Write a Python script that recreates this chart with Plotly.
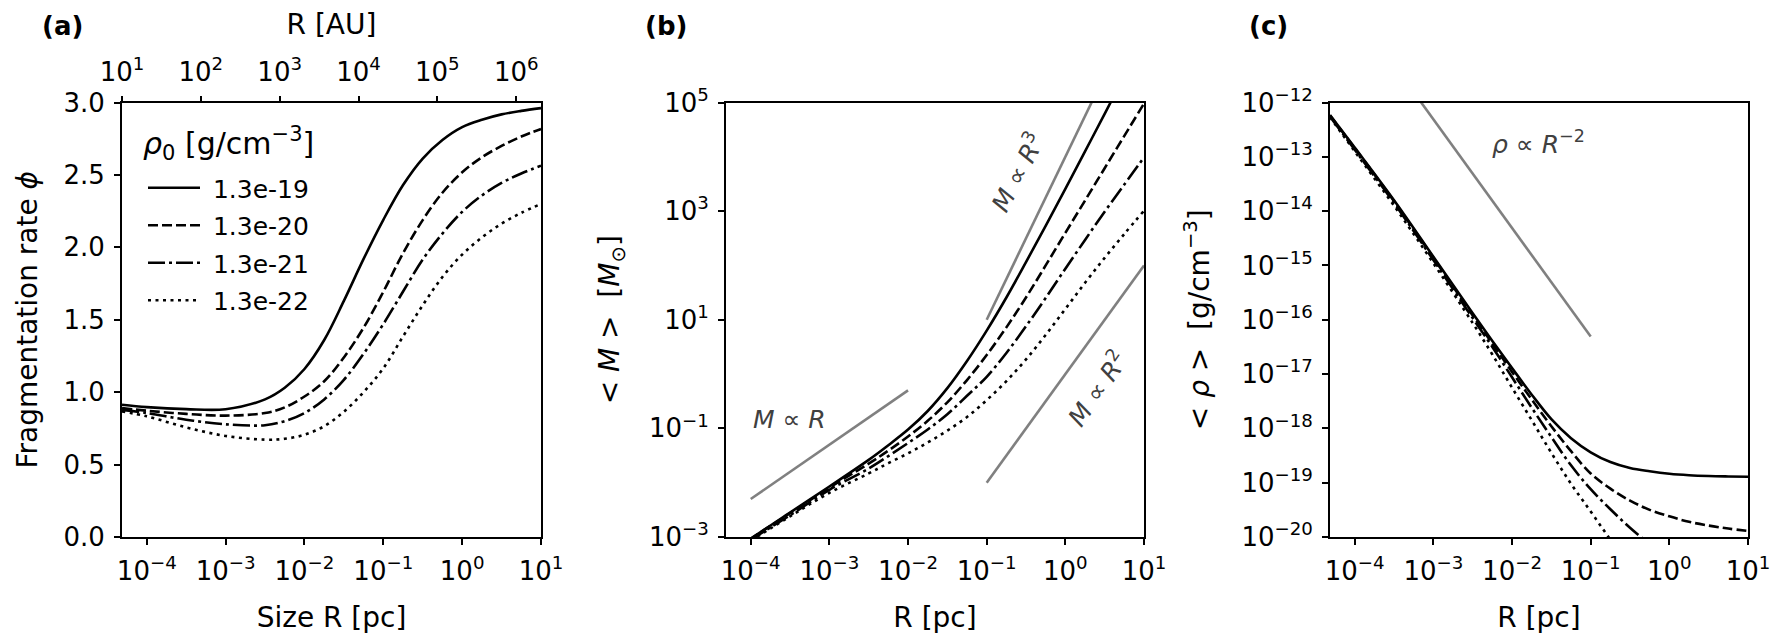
import numpy as np
import plotly.graph_objects as go

# ---------------- data ----------------
rho0_labels = ["1.3e-19", "1.3e-20", "1.3e-21", "1.3e-22"]
dash_styles = ["solid", "10px,4px", "17px,4px,3px,4px", "3px,4.5px"]

# common radius grid [pc] (values at these radii)
R_pc = [4.85e-5, 1e-4, 3.16e-4, 1e-3, 3.16e-3, 5.62e-3, 1e-2, 1.78e-2, 3.16e-2, 5.62e-2,
        0.1, 0.178, 0.316, 0.562, 1.0, 1.78, 3.16, 5.62, 10.0]

# panel (a): fragmentation rate phi
phi_19 = [0.913, 0.897, 0.883, 0.882, 0.950, 1.030, 1.160, 1.360, 1.630, 1.920, 2.190,
          2.430, 2.613, 2.741, 2.830, 2.881, 2.918, 2.942, 2.961]
phi_20 = [0.890, 0.872, 0.850, 0.838, 0.856, 0.895, 0.970, 1.075, 1.240, 1.445, 1.693,
          1.960, 2.188, 2.377, 2.518, 2.622, 2.700, 2.765, 2.817]
phi_21 = [0.878, 0.856, 0.810, 0.778, 0.772, 0.800, 0.856, 0.950, 1.085, 1.265, 1.470,
          1.695, 1.915, 2.095, 2.245, 2.358, 2.445, 2.510, 2.564]
phi_22 = [0.867, 0.833, 0.757, 0.698, 0.672, 0.678, 0.706, 0.765, 0.865, 1.000, 1.165,
          1.385, 1.600, 1.795, 1.950, 2.068, 2.163, 2.238, 2.300]

# panel (b): mean fragment mass [Msun]
M_19 = [4.5e-4, 9.3e-4, 2.82e-3, 8.5e-3, 2.63e-2, 4.9e-2, 9.5e-2, 0.209, 0.55, 1.74,
        6.31, 25.7, 115, 537, 2570, 1.26e4, 6.17e4, 3.09e5, 1.58e6]
M_20 = [4.7e-4, 9.3e-4, 2.75e-3, 8.1e-3, 2.24e-2, 3.89e-2, 7.08e-2, 0.138, 0.302, 0.776,
        2.24, 7.24, 25.7, 100, 398, 1567, 6166, 2.43e4, 9.55e4]
M_21 = [4.5e-4, 8.9e-4, 2.51e-3, 7.4e-3, 1.82e-2, 3.09e-2, 5.37e-2, 9.55e-2, 0.182, 0.398,
        0.891, 2.45, 7.59, 25.1, 87.1, 295, 977, 3090, 9770]
M_22 = [4.3e-4, 8.5e-4, 2.4e-3, 6.5e-3, 1.48e-2, 2.29e-2, 3.47e-2, 5.5e-2, 9.1e-2, 0.162,
        0.331, 0.741, 1.86, 5.25, 15.8, 47.9, 138, 380, 1020]

# panel (c): mean density, log10 [g/cm^3]
logrho_19 = [-12.23, -12.83, -13.80, -14.84, -15.88, -16.39, -16.89, -17.38, -17.83, -18.18,
             -18.44, -18.62, -18.73, -18.79, -18.835, -18.862, -18.877, -18.885, -18.89]
logrho_20 = [-12.24, -12.84, -13.82, -14.86, -15.92, -16.44, -16.96, -17.47, -17.96, -18.42,
             -18.83, -19.11, -19.33, -19.50, -19.62, -19.72, -19.79, -19.845, -19.89]
logrho_21 = [-12.26, -12.87, -13.85, -14.90, -15.97, -16.50, -17.06, -17.62, -18.16, -18.68,
             -19.12, -19.49, -19.83, -20.13, -20.40, -20.65, -20.88, -21.08, -21.25]
logrho_22 = [-12.27, -12.90, -13.90, -14.96, -16.06, -16.64, -17.25, -17.85, -18.45, -19.02,
             -19.53, -20.05, -20.55, -21.0, -21.42, -21.82, -22.2, -22.55, -22.9]

# reference power-law guide lines
guideR1_R = [1e-4, 1e-2];  guideR1_M = [5e-3, 5e-1]
guideR3_R = [0.1, 10.0];   guideR3_M = [10.0, 1e7]
guideR2_R = [0.1, 10.0];   guideR2_M = [1e-2, 1e2]
guideRho_R = [1e-4, 0.1];  guideRho_rho = [4.9e-11, 4.9e-17]

AU_range = [10.0, 10.0 * 206265.0]

# tick labels
pc_ticks = [1e-4, 1e-3, 1e-2, 1e-1, 1e0, 1e1]
pc_ticktext = ["10<sup>−4</sup>", "10<sup>−3</sup>", "10<sup>−2</sup>", "10<sup>−1</sup>",
               "10<sup>0</sup>", "10<sup>1</sup>"]
au_ticks = [1e1, 1e2, 1e3, 1e4, 1e5, 1e6]
au_ticktext = ["10<sup>1</sup>", "10<sup>2</sup>", "10<sup>3</sup>", "10<sup>4</sup>",
               "10<sup>5</sup>", "10<sup>6</sup>"]
phi_ticks = [0.0, 0.5, 1.0, 1.5, 2.0, 2.5, 3.0]
M_ticks = [1e-3, 1e-1, 1e1, 1e3, 1e5]
M_ticktext = ["10<sup>−3</sup>", "10<sup>−1</sup>", "10<sup>1</sup>", "10<sup>3</sup>", "10<sup>5</sup>"]
rho_ticks = [10.0 ** e for e in range(-20, -11)]
rho_ticktext = [f"10<sup>−{-e}</sup>" for e in range(-20, -11)]

# ---------------- figure ----------------
FONT = "DejaVu Sans"
OFF = 8                      # page body margin of the browser
W, H = 1785 - OFF, 644 - OFF
def px_x(p):
    return (p - OFF) / W
def px_y(p):
    return 1 - (p - OFF) / H

fig = go.Figure()

phis = [phi_19, phi_20, phi_21, phi_22]
Ms = [M_19, M_20, M_21, M_22]
rhos = [logrho_19, logrho_20, logrho_21, logrho_22]
LW = 2.6
SPL = dict(shape="spline", smoothing=1.0)

for i in range(4):
    fig.add_trace(go.Scatter(x=R_pc, y=phis[i], mode="lines", name="\u00a0" + rho0_labels[i],
                             line=dict(color="black", width=LW, dash=dash_styles[i], **SPL),
                             xaxis="x", yaxis="y", legendgroup=f"g{i}", showlegend=True))
for i in range(4):
    fig.add_trace(go.Scatter(x=R_pc, y=Ms[i], mode="lines",
                             line=dict(color="black", width=LW, dash=dash_styles[i], **SPL),
                             xaxis="x2", yaxis="y2", showlegend=False))
for i in range(4):
    fig.add_trace(go.Scatter(x=R_pc, y=[10 ** v for v in rhos[i]], mode="lines",
                             line=dict(color="black", width=LW, dash=dash_styles[i], **SPL),
                             xaxis="x3", yaxis="y3", showlegend=False))

gray = dict(color="#808080", width=LW)
for xs, ys in [(guideR1_R, guideR1_M), (guideR3_R, guideR3_M), (guideR2_R, guideR2_M)]:
    fig.add_trace(go.Scatter(x=xs, y=ys, mode="lines", line=gray, xaxis="x2", yaxis="y2", showlegend=False))
fig.add_trace(go.Scatter(x=guideRho_R, y=guideRho_rho, mode="lines", line=gray,
                         xaxis="x3", yaxis="y3", showlegend=False))

# invisible trace so that the AU top axis is drawn
fig.add_trace(go.Scatter(x=AU_range, y=[1.0, 1.0], mode="markers", marker=dict(opacity=0),
                         xaxis="x4", yaxis="y", showlegend=False, hoverinfo="skip"))

ydom = [px_y(537), px_y(102.5)]
xdoms = [[px_x(122), px_x(541)], [px_x(726), px_x(1144)], [px_x(1330), px_x(1748)]]
xrange_log = [np.log10(4.848e-5), 1.0]

tickfont = dict(family=FONT, size=26, color="black")
titlefont = dict(family=FONT, size=28, color="black")

common = dict(showline=True, linecolor="black", linewidth=1.8, mirror=True, ticks="outside",
              ticklen=6, tickwidth=1.6, tickcolor="black", showgrid=False, zeroline=False,
              tickfont=tickfont, ticklabelstandoff=4, automargin=False)

def xlog(dom, title, anchor):
    return dict(domain=dom, type="log", range=xrange_log, tickmode="array", tickvals=pc_ticks,
                ticktext=pc_ticktext, anchor=anchor,
                title=dict(text=title, font=titlefont, standoff=22), **common)

fig.update_layout(
    template="none",
    width=W, height=H, margin=dict(l=0, r=0, t=0, b=0, pad=0),
    paper_bgcolor="white", plot_bgcolor="white",
    font=dict(family=FONT, color="black"),
    xaxis=xlog(xdoms[0], "Size R [pc]", "y"),
    xaxis2=xlog(xdoms[1], "R [pc]", "y2"),
    xaxis3=xlog(xdoms[2], "R [pc]", "y3"),
    xaxis4=dict(type="log", range=[np.log10(AU_range[0]), np.log10(AU_range[1])],
                tickmode="array", tickvals=au_ticks, ticktext=au_ticktext,
                overlaying="x", side="top", anchor="y", automargin=False,
                showline=False, ticks="outside", ticklen=6, tickwidth=1.6, tickcolor="black",
                showgrid=False, zeroline=False, tickfont=tickfont, ticklabelstandoff=4,
                title=dict(text="R [AU]", font=titlefont, standoff=10)),
    yaxis=dict(domain=ydom, range=[0, 3], tickmode="array", tickvals=phi_ticks,
               tickformat=".1f", anchor="x",
               title=dict(text="Fragmentation rate <i>ϕ</i>", font=titlefont, standoff=18), **common),
    yaxis2=dict(domain=ydom, type="log", range=[-3, 5], tickmode="array", tickvals=M_ticks,
                ticktext=M_ticktext, anchor="x2",
                title=dict(text="&lt;\u00a0<i>M</i>\u00a0&gt;\u00a0\u00a0[<i>M</i><sub>⊙</sub>]", font=titlefont, standoff=21),
                **common),
    yaxis3=dict(domain=ydom, type="log", range=[-20, -12], tickmode="array", tickvals=rho_ticks,
                ticktext=rho_ticktext, anchor="x3",
                title=dict(text="&lt;\u00a0<i>ρ</i>\u00a0&gt;\u00a0\u00a0[g/cm<sup>−3</sup>]", font=titlefont, standoff=24),
                **common),
    legend=dict(x=px_x(143), y=px_y(165), xanchor="left", yanchor="top",
                bgcolor="rgba(0,0,0,0)", borderwidth=0,
                font=dict(family=FONT, size=25, color="black"),
                tracegroupgap=2, itemwidth=52),
    showlegend=True,
)

# legend title
fig.add_annotation(x=px_x(141), y=px_y(143), xref="paper", yref="paper",
                   text="<i>ρ</i><sub>0</sub> [g/cm<sup>−3</sup>]", showarrow=False,
                   xanchor="left", yanchor="middle", font=dict(family=FONT, size=30, color="black"))

ann_color = "#404040"
ann_font = dict(family=FONT, size=25, color=ann_color)
fig.add_annotation(x=np.log10(1e-4), y=np.log10(0.145), xref="x2", yref="y2", text="<i>M</i> ∝ <i>R</i>",
                   showarrow=False, xanchor="left", yanchor="middle", font=ann_font)
fig.add_annotation(x=-0.62, y=3.72, xref="x2", yref="y2", text="<i>M</i> ∝ <i>R</i><sup>3</sup>",
                   showarrow=False, textangle=-62, font=ann_font)
fig.add_annotation(x=0.398, y=-0.26, xref="x2", yref="y2", text="<i>M</i> ∝ <i>R</i><sup>2</sup>",
                   showarrow=False, textangle=-55, font=ann_font)
fig.add_annotation(x=-2.28, y=-12.74, xref="x3", yref="y3", text="<i>ρ</i> ∝ <i>R</i><sup>−2</sup>",
                   showarrow=False, xanchor="left", yanchor="middle", font=ann_font)

for lbl, xp in [("(a)", 40), ("(b)", 643), ("(c)", 1247)]:
    fig.add_annotation(x=px_x(xp), y=px_y(26), xref="paper", yref="paper", text=f"<b>{lbl}</b>",
                       showarrow=False, xanchor="left", yanchor="middle",
                       font=dict(family=FONT, size=26, color="black"))

fig.write_html("out.html")
